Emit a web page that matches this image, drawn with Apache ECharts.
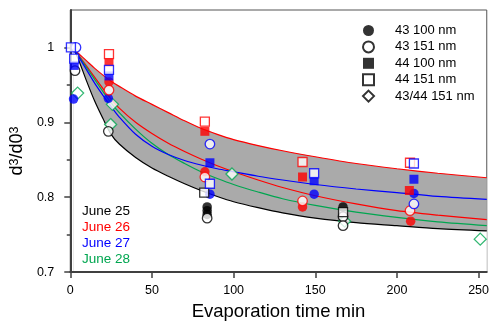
<!DOCTYPE html>
<html>
<head>
<meta charset="utf-8">
<script src="https://cdn.jsdelivr.net/npm/echarts@6/dist/echarts.min.js"></script>
<style>
  html, body { margin: 0; padding: 0; background: #fff; }
  #chart { width: 492px; height: 326px; }
</style>
</head>
<body>
<div id="chart"></div>
<script>
// fitted curves at these times (min)
const fitTimes = [2, 5, 10, 15, 20, 25, 30, 40, 50, 60, 70, 80, 90, 100, 115, 130, 150, 175, 200, 225, 255];
const lowerBound = [0.999, 0.984, 0.955, 0.928, 0.905, 0.884, 0.871, 0.853, 0.839, 0.828, 0.818, 0.809, 0.801, 0.794, 0.786, 0.779, 0.772, 0.766, 0.762, 0.758, 0.755];
const upperBound = [0.998, 0.992, 0.982, 0.972, 0.963, 0.955, 0.948, 0.935, 0.924, 0.913, 0.902, 0.892, 0.884, 0.877, 0.869, 0.862, 0.854, 0.845, 0.838, 0.832, 0.826];
const fitRed = [0.999, 0.990, 0.975, 0.960, 0.945, 0.931, 0.919, 0.900, 0.885, 0.872, 0.861, 0.851, 0.842, 0.834, 0.823, 0.813, 0.802, 0.791, 0.782, 0.776, 0.770];
const fitBlue = [0.999, 0.988, 0.970, 0.952, 0.936, 0.921, 0.907, 0.884, 0.868, 0.857, 0.849, 0.843, 0.838, 0.834, 0.828, 0.823, 0.817, 0.811, 0.806, 0.801, 0.797];
const fitGreen = [0.999, 0.989, 0.973, 0.957, 0.941, 0.926, 0.913, 0.891, 0.872, 0.857, 0.845, 0.834, 0.825, 0.817, 0.807, 0.798, 0.789, 0.780, 0.773, 0.767, 0.762];

// 43 100 nm (filled circle)
const c100Black = [[83.8, 0.787], [83.8, 0.782], [83.8, 0.777], [167, 0.787]];
const c100Red = [[23.7, 0.954], [82.4, 0.834], [142.2, 0.787], [208.4, 0.768]];
const c100Blue = [[2, 0.931], [23.3, 0.932], [85.5, 0.804], [149.3, 0.804], [210.4, 0.805]];
// 43 151 nm (open circle)
const c151Black = [[2.9, 0.969], [23.3, 0.888], [83.8, 0.772], [167, 0.774], [167, 0.762]];
const c151Red = [[23.7, 0.943], [82.4, 0.827], [142.2, 0.795], [208, 0.782]];
const c151Blue = [[3.5, 1.0], [85.5, 0.871], [210.4, 0.791]];
// 44 100 nm (filled square)
const s100Red = [[23.7, 0.980], [82.4, 0.888], [142.2, 0.827], [207.6, 0.809]];
const s100Blue = [[2.4, 0.976], [23.7, 0.962], [85.5, 0.846], [149.3, 0.822], [210.4, 0.824]];
// 44 151 nm (open square)
const s151Black = [[82, 0.806], [167, 0.780]];
const s151Red = [[23.7, 0.991], [82.4, 0.901], [142.2, 0.847], [208, 0.846]];
const s151Blue = [[0.4, 1.0], [2.4, 0.985], [23.7, 0.970], [85.5, 0.818], [149.3, 0.832], [210.4, 0.845]];
// 43/44 151 nm (open diamond)
const d151Green = [[4.5, 0.939], [25.8, 0.924], [24.7, 0.897], [99, 0.831], [168, 0.768], [251, 0.744]];

const legendNames = ['43 100 nm', '43 151 nm', '44 100 nm', '44 151 nm', '43/44 151 nm'];
const dateLabels = ['June 25', 'June 26', 'June 27', 'June 28'];
const xTicks = [0, 50, 100, 150, 200, 250];
const yTicks = [0.7, 0.8, 0.9, 1];
const yMinorTicks = [0.75, 0.85, 0.95];

const BLACK = '#000000';
const RED = '#ff0000';
const BLUE = '#0000ff';
const GREEN = '#00a650';
const FONT = '"Liberation Sans", Arial, sans-serif';

const chart = echarts.init(document.getElementById('chart'));

const pairs = (ys) => fitTimes.map((t, i) => [t, ys[i]]);

// colour each point by date; open symbols keep white fill
const colored = (points, color, open) =>
  points.map((p) => ({
    value: p,
    itemStyle: open ? { color: '#fff', borderColor: color } : { color: color },
  }));

const SMOOTH = 0.3;

const fitLine = (data, color) => ({
  type: 'line',
  data: pairs(data),
  smooth: SMOOTH,
  symbol: 'none',
  silent: true,
  lineStyle: { color: color, width: 1.2 },
  z: 3,
});

// filled area under a curve, down to the axis (used to paint the band)
const fillUnder = (data, color) => ({
  type: 'line',
  data: pairs(data),
  smooth: SMOOTH,
  symbol: 'none',
  silent: true,
  lineStyle: { width: 0 },
  areaStyle: { color: color, opacity: 1, origin: 'start' },
  z: 1,
});

const markers = (name, symbol, size, open, data) => ({
  name: name,
  type: 'scatter',
  symbol: symbol,
  symbolSize: size,
  itemStyle: open
    ? { color: '#fff', borderColor: BLACK, borderWidth: 1.3 }
    : { color: BLACK, borderWidth: 0 },
  data: data,
  z: 5,
});

chart.setOption({
  animation: false,
  textStyle: { fontFamily: FONT },
  grid: {
    left: 69,
    right: 4,
    top: 10,
    bottom: 49,
    show: true,
    borderColor: '#555',
    borderWidth: 1,
  },
  legend: {
    orient: 'vertical',
    left: 357,
    top: 19,
    itemWidth: 11,
    itemHeight: 11,
    itemGap: 3.4,
    selectedMode: false,
    data: legendNames,
    textStyle: {
      fontFamily: FONT,
      fontSize: 13,
      lineHeight: 13,
      color: '#000',
      padding: [0, 0, 0, 16],
    },
  },
  xAxis: {
    type: 'value',
    min: 0,
    max: 255,
    z: 2,
    name: 'Evaporation time min',
    nameLocation: 'middle',
    nameGap: 25,
    nameTextStyle: { fontSize: 18.5, color: '#000', fontFamily: FONT },
    splitLine: { show: false },
    axisLine: { lineStyle: { color: '#404040', width: 2 } },
    axisTick: {
      customValues: xTicks,
      length: 6,
      lineStyle: { color: '#404040', width: 1.5 },
    },
    axisLabel: {
      customValues: xTicks,
      margin: 12,
      fontSize: 12.5,
      color: '#000',
      fontFamily: FONT,
    },
  },
  yAxis: [
    {
      type: 'value',
      min: 0.7,
      max: 1.05,
      z: 2,
      name: '{b|d}{s|3}{b|/d0}{s|3}',
      nameLocation: 'middle',
      nameGap: 41,
      nameTextStyle: {
        color: '#000',
        padding: [0, 20, 0, 0],
        rich: {
          b: { fontSize: 18, fontFamily: FONT, color: '#000' },
          s: { fontSize: 12.5, fontFamily: FONT, color: '#000', verticalAlign: 'top' },
        },
      },
      splitLine: { show: false },
      axisLine: { lineStyle: { color: '#404040', width: 2 } },
      axisTick: {
        customValues: yTicks,
        length: 6,
        lineStyle: { color: '#404040', width: 1.5 },
      },
      axisLabel: {
        customValues: yTicks,
        margin: 16,
        fontSize: 12.5,
        color: '#000',
        fontFamily: FONT,
        formatter: (v) => (Math.abs(v - 1) < 1e-9 ? '1' : v.toFixed(1)),
      },
    },
    {
      // minor ticks only
      type: 'value',
      min: 0.7,
      max: 1.05,
      z: 2,
      position: 'left',
      splitLine: { show: false },
      axisLine: { show: false },
      axisLabel: { show: false },
      axisTick: {
        customValues: yMinorTicks,
        length: 3.5,
        lineStyle: { color: '#404040', width: 1.5 },
      },
    },
  ],
  graphic: dateLabels.map((label, i) => ({
    type: 'text',
    x: 82,
    y: 211 + i * 16,
    z: 20,
    silent: true,
    style: {
      text: label,
      fill: [BLACK, RED, BLUE, GREEN][i],
      fontSize: 13.5,
      fontFamily: FONT,
      verticalAlign: 'middle',
    },
  })),
  series: [
    // gray band: fill under the upper fit, then white under the lower fit
    fillUnder(upperBound, '#aaaaaa'),
    fillUnder(lowerBound, '#ffffff'),
    fitLine(lowerBound, BLACK),
    fitLine(upperBound, RED),
    fitLine(fitRed, RED),
    fitLine(fitGreen, GREEN),
    fitLine(fitBlue, BLUE),
    markers('43/44 151 nm', 'diamond', 12, true, colored(d151Green, GREEN, true)),
    markers('43 100 nm', 'circle', 9.5, false, [
      ...colored(c100Black, BLACK, false),
      ...colored(c100Red, RED, false),
      ...colored(c100Blue, BLUE, false),
    ]),
    markers('43 151 nm', 'circle', 9.5, true, [
      ...colored(c151Black, BLACK, true),
      ...colored(c151Red, RED, true),
      ...colored(c151Blue, BLUE, true),
    ]),
    markers('44 100 nm', 'rect', 9, false, [
      ...colored(s100Red, RED, false),
      ...colored(s100Blue, BLUE, false),
    ]),
    markers('44 151 nm', 'rect', 9, true, [
      ...colored(s151Black, BLACK, true),
      ...colored(s151Red, RED, true),
      ...colored(s151Blue, BLUE, true),
    ]),
  ],
});
</script>
</body>
</html>
